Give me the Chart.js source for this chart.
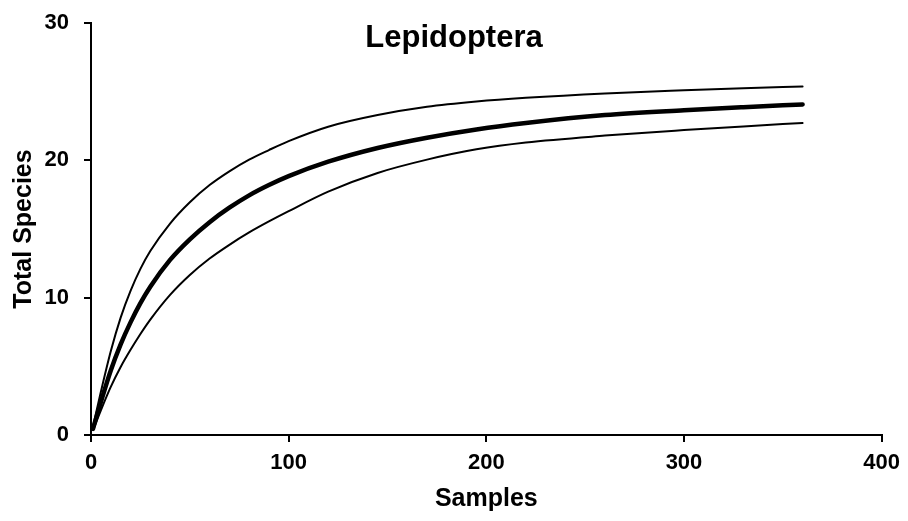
<!DOCTYPE html>
<html>
<head>
<meta charset="utf-8">
<script src="https://cdn.jsdelivr.net/npm/chart.js@4"></script>
<style>
  html, body { margin: 0; padding: 0; background: #fff; }
  #wrap { width: 908px; height: 521px; }
</style>
</head>
<body>
<div id="wrap"><canvas id="myChart" width="908" height="521"></canvas></div>
<script>
// species accumulation, mean curve with upper / lower bounds
let samples = [1, 5, 10, 15, 20, 25, 30, 40, 50, 60, 70, 80, 90, 100, 120, 145, 170, 195, 220, 260, 300, 330, 360]
let meanSpecies = [0.45, 2.4, 4.7, 6.6, 8.2, 9.6, 10.8, 12.75, 14.25, 15.5, 16.55, 17.45, 18.2, 18.85, 19.9, 20.9, 21.65, 22.25, 22.72, 23.3, 23.65, 23.87, 24.07]
let upperSpecies = [0.6, 3.15, 6.1, 8.55, 10.5, 12.1, 13.4, 15.4, 16.95, 18.2, 19.2, 20.05, 20.75, 21.4, 22.45, 23.3, 23.9, 24.28, 24.55, 24.87, 25.1, 25.25, 25.38]
let lowerSpecies = [0.35, 1.8, 3.5, 4.95, 6.2, 7.35, 8.4, 10.2, 11.65, 12.85, 13.85, 14.75, 15.55, 16.3, 17.72, 19.08, 20.05, 20.8, 21.3, 21.8, 22.2, 22.47, 22.72]
let xTicks = [0, 100, 200, 300, 400]
let yTicks = [0, 10, 20, 30]

let font = "'Liberation Sans', Arial, sans-serif"

function points(values) {
    return samples.map(function (s, i) { return { x: s, y: values[i] } })
}

function curve(values, width) {
    return {
        data: points(values),
        borderColor: '#000',
        borderWidth: width,
        pointRadius: 0,
        fill: false,
        cubicInterpolationMode: 'monotone',
        borderCapStyle: 'round'
    }
}

// title sits inside the plot, centred on the canvas
let titlePlugin = {
    id: 'innerTitle',
    afterDraw: function (chart) {
        let c = chart.ctx
        c.save()
        c.font = "bold 31px " + font
        c.fillStyle = '#000'
        c.textAlign = 'center'
        c.textBaseline = 'middle'
        c.fillText('Lepidoptera', chart.width / 2, 38)
        c.restore()
    }
}

let ctx = document.getElementById('myChart').getContext('2d')
let myChart = new Chart(ctx, {
    type: 'line',
    data: {
        datasets: [
            curve(upperSpecies, 2),
            curve(meanSpecies, 4.5),
            curve(lowerSpecies, 2)
        ]
    },
    options: {
        responsive: false,
        animation: false,
        layout: { padding: { top: 23, right: 26, left: 0, bottom: 0 } },
        plugins: { legend: { display: false }, tooltip: { enabled: false } },
        scales: {
            x: {
                type: 'linear',
                min: 0,
                max: 400,
                afterBuildTicks: function (scale) { scale.ticks = xTicks.map(function (v) { return { value: v } }) },
                afterFit: function (scale) { scale.height = 86 },
                grid: { drawOnChartArea: false, drawTicks: true, tickLength: 7, color: '#000', lineWidth: 2 },
                border: { color: '#000', width: 2 },
                ticks: { color: '#000', font: { family: font, size: 22, weight: 'bold' }, padding: 8, maxRotation: 0 },
                title: { display: true, text: 'Samples', color: '#000', font: { family: font, size: 25, weight: 'bold' }, padding: { top: 0, bottom: 7 } }
            },
            y: {
                min: 0,
                max: 30,
                afterBuildTicks: function (scale) { scale.ticks = yTicks.map(function (v) { return { value: v } }) },
                afterFit: function (scale) {
                    scale.width = 91
                    // keep the top label from pushing the plot down
                    scale.paddingTop = 0
                    scale.paddingBottom = 0
                },
                grid: { drawOnChartArea: false, drawTicks: true, tickLength: 7, color: '#000', lineWidth: 2 },
                border: { color: '#000', width: 2 },
                ticks: { color: '#000', font: { family: font, size: 22, weight: 'bold' }, padding: 15 },
                title: { display: true, text: 'Total Species', color: '#000', font: { family: font, size: 25, weight: 'bold' }, padding: { top: 9, bottom: 0 } }
            }
        }
    },
    plugins: [titlePlugin]
})
</script>
</body>
</html>
